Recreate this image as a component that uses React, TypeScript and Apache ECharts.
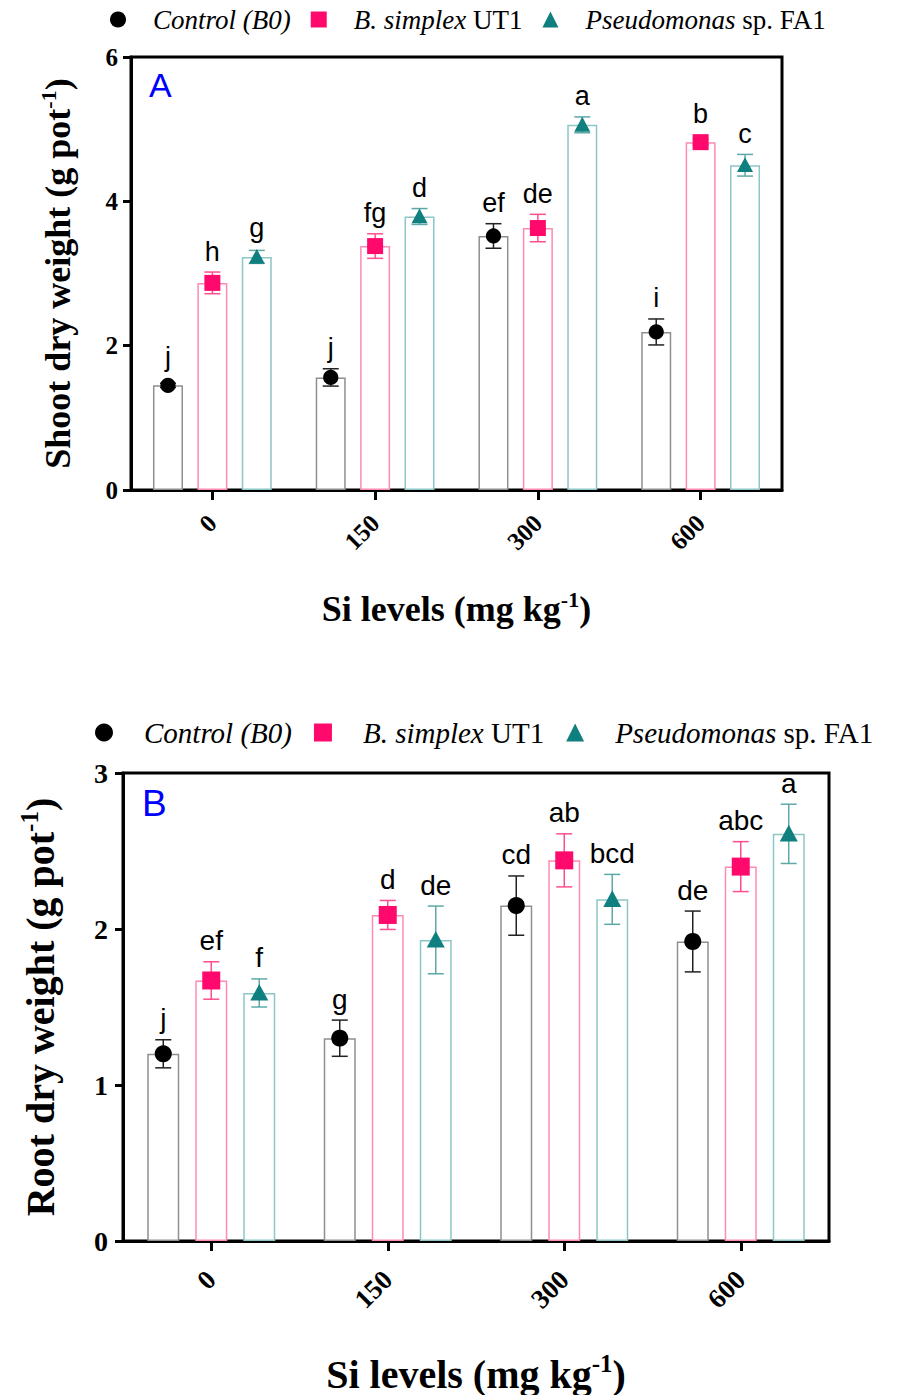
import React, { useEffect, useRef } from 'react';
import * as echarts from 'echarts';

// ---------- data ----------
const categories = ['0', '150', '300', '600'];
const groupNames = ['Control (B0)', 'B. simplex UT1', 'Pseudomonas sp. FA1'];
const groupRich = ['{i|Control (B0)}', '{i|B. simplex}{n| UT1}', '{i|Pseudomonas}{n| sp. FA1}'];

// Panel A: shoot dry weight (g pot-1)
const shootControl = [1.45, 1.56, 3.52, 2.19];
const shootControlErr = [0.03, 0.12, 0.17, 0.18];
const shootSimplex = [2.87, 3.38, 3.63, 4.82];
const shootSimplexErr = [0.15, 0.17, 0.19, 0.04];
const shootPseudo = [3.23, 3.79, 5.06, 4.5];
const shootPseudoErr = [0.09, 0.11, 0.11, 0.15];
const shootControlLetters = ['j', 'j', 'ef', 'i'];
const shootSimplexLetters = ['h', 'fg', 'de', 'b'];
const shootPseudoLetters = ['g', 'd', 'a', 'c'];

// Panel B: root dry weight (g pot-1)
const rootControl = [1.2, 1.3, 2.15, 1.92];
const rootControlErr = [0.09, 0.116, 0.19, 0.195];
const rootSimplex = [1.67, 2.09, 2.44, 2.4];
const rootSimplexErr = [0.12, 0.093, 0.17, 0.16];
const rootPseudo = [1.59, 1.93, 2.19, 2.61];
const rootPseudoErr = [0.09, 0.217, 0.16, 0.19];
const rootControlLetters = ['j', 'g', 'cd', 'de'];
const rootSimplexLetters = ['ef', 'd', 'ab', 'abc'];
const rootPseudoLetters = ['f', 'de', 'bcd', 'a'];

const shootTicks = { min: 0, max: 6, interval: 2 };
const rootTicks = { min: 0, max: 3, interval: 1 };

// ---------- styles ----------
const SERIF = '"Liberation Serif", "Times New Roman", serif';
const SANS = '"Liberation Sans", Arial, sans-serif';
const markerColors = ['#000000', '#ff0a6c', '#0f7f7f'];
const barBorderColors = ['#8f8f8f', '#ff8ab4', '#8cc6c6'];
const errColors = ['#222222', '#ff4d8f', '#5fa8a8'];
const legendIcons = ['circle', 'rect', 'triangle'];

type Panel = {
  grid: number;
  means: number[][];
  errs: number[][];
  letters: string[][];
  barWidth: number;
  gapRatio: number;
  marker: number;
  letterSize: number;
};

const panels: Panel[] = [
  {
    grid: 0,
    means: [shootControl, shootSimplex, shootPseudo],
    errs: [shootControlErr, shootSimplexErr, shootPseudoErr],
    letters: [shootControlLetters, shootSimplexLetters, shootPseudoLetters],
    barWidth: 30,
    gapRatio: 0.48,
    marker: 16,
    letterSize: 27,
  },
  {
    grid: 1,
    means: [rootControl, rootSimplex, rootPseudo],
    errs: [rootControlErr, rootSimplexErr, rootPseudoErr],
    letters: [rootControlLetters, rootSimplexLetters, rootPseudoLetters],
    barWidth: 32,
    gapRatio: 0.5,
    marker: 18,
    letterSize: 28,
  },
];

function buildSeries(): any[] {
  const out: any[] = [];
  panels.forEach((p) => {
    const spacing = p.barWidth * (1 + p.gapRatio);
    p.means.forEach((vals, g) => {
      out.push({
        type: 'bar',
        name: groupNames[g] + ' bar ' + p.grid,
        xAxisIndex: p.grid,
        yAxisIndex: p.grid,
        data: vals,
        barWidth: p.barWidth,
        barGap: p.gapRatio * 100 + '%',
        itemStyle: { color: '#ffffff', borderColor: barBorderColors[g], borderWidth: 1.5 },
        silent: true,
        z: 2,
      });
    });
    p.means.forEach((vals, g) => {
      const errs = p.errs[g];
      const letters = p.letters[g];
      out.push({
        type: 'custom',
        name: groupNames[g],
        xAxisIndex: p.grid,
        yAxisIndex: p.grid,
        itemStyle: { color: markerColors[g] },
        data: vals.map((v, j) => [j, v, errs[j]]),
        encode: { x: 0, y: 1 },
        z: 5,
        clip: false,
        silent: true,
        renderItem: (params: any, api: any) => {
          const xi = api.value(0);
          const v = api.value(1);
          const e = api.value(2);
          const c = api.coord([xi, v]);
          const top = api.coord([xi, v + e]);
          const bot = api.coord([xi, v - e]);
          const cx = c[0] + (g - 1) * spacing;
          const cy = c[1];
          const half = p.marker / 2;
          const capHalf = 8;
          const errStyle = { stroke: errColors[g], lineWidth: 1.5 };
          const children: any[] = [];
          children.push({ type: 'line', shape: { x1: cx, y1: top[1], x2: cx, y2: bot[1] }, style: errStyle });
          children.push({ type: 'line', shape: { x1: cx - capHalf, y1: top[1], x2: cx + capHalf, y2: top[1] }, style: errStyle });
          children.push({ type: 'line', shape: { x1: cx - capHalf, y1: bot[1], x2: cx + capHalf, y2: bot[1] }, style: errStyle });
          if (g === 0) {
            children.push({ type: 'circle', shape: { cx, cy, r: half * 0.95 }, style: { fill: markerColors[g] } });
          } else if (g === 1) {
            children.push({ type: 'rect', shape: { x: cx - half, y: cy - half, width: 2 * half, height: 2 * half }, style: { fill: markerColors[g] } });
          } else {
            children.push({
              type: 'polygon',
              shape: { points: [[cx, cy - half], [cx + half, cy + half * 0.85], [cx - half, cy + half * 0.85]] },
              style: { fill: markerColors[g] },
            });
          }
          const ly = Math.min(top[1], cy - half) - 7;
          children.push({
            type: 'text',
            style: {
              text: letters[params.dataIndex],
              x: cx,
              y: ly,
              align: 'center',
              verticalAlign: 'bottom',
              textAlign: 'center',
              textVerticalAlign: 'bottom',
              font: `${p.letterSize}px ${SANS}`,
              fill: '#000000',
            },
          });
          return { type: 'group', children };
        },
      });
    });
  });
  return out;
}

function legendCfg(left: number, top: number, size: number, fontSize: number, pad: number, gap: number) {
  return {
    left,
    top,
    padding: 0,
    orient: 'horizontal',
    selectedMode: false,
    itemWidth: size,
    itemHeight: size,
    itemGap: gap,
    data: groupNames.map((n, i) => ({ name: n, icon: legendIcons[i] })),
    formatter: (name: string) => groupRich[groupNames.indexOf(name)],
    textStyle: {
      fontFamily: SERIF,
      fontSize,
      color: '#000',
      padding: [0, 0, 0, pad],
      rich: {
        i: { fontFamily: SERIF, fontSize, fontStyle: 'italic', color: '#000' },
        n: { fontFamily: SERIF, fontSize, color: '#000' },
      },
    },
  };
}

function axisName(text: string, size: number) {
  return {
    name: `{b|${text}}{s|-1}{b|)}`,
    nameTextStyle: {
      rich: {
        b: { fontFamily: SERIF, fontWeight: 'bold', fontSize: size, color: '#000', lineHeight: size * 1.15 },
        s: { fontFamily: SERIF, fontWeight: 'bold', fontSize: Math.round(size * 0.62), color: '#000', verticalAlign: 'top', lineHeight: size * 0.7 },
      },
    },
  };
}

function xAxisCfg(grid: number, fontSize: number, margin: number, nameSize: number, nameGap: number) {
  return {
    gridIndex: grid,
    type: 'category',
    data: categories,
    axisLine: { show: true, lineStyle: { color: '#000', width: 3 } },
    axisTick: { show: true, alignWithLabel: true, length: 10, lineStyle: { color: '#000', width: 3 } },
    axisLabel: { rotate: 45, margin, fontFamily: SERIF, fontWeight: 'bold', fontSize, color: '#000' },
    splitLine: { show: false },
    nameLocation: 'middle',
    nameGap,
    ...axisName('Si levels (mg kg', nameSize),
  };
}

function yAxisCfg(grid: number, ticks: { min: number; max: number; interval: number }, label: string, fontSize: number, margin: number, nameSize: number, nameGap: number) {
  return {
    gridIndex: grid,
    type: 'value',
    min: ticks.min,
    max: ticks.max,
    interval: ticks.interval,
    axisLine: { show: true, lineStyle: { color: '#000', width: 3 } },
    axisTick: { show: true, length: 8, lineStyle: { color: '#000', width: 3 } },
    axisLabel: { margin, fontFamily: SERIF, fontWeight: 'bold', fontSize, color: '#000' },
    splitLine: { show: false },
    nameLocation: 'middle',
    nameRotate: 90,
    nameGap,
    ...axisName(label, nameSize),
  };
}

export default function App() {
  const ref = useRef<HTMLDivElement>(null);
  useEffect(() => {
    if (!ref.current) return;
    const chart = echarts.init(ref.current, undefined, { renderer: 'svg' });
    chart.setOption({
      animation: false,
      backgroundColor: '#ffffff',
      grid: [
        { left: 131, top: 57, width: 651, height: 433, show: true, borderColor: '#000', borderWidth: 3, backgroundColor: 'transparent' },
        { left: 123, top: 773, width: 706, height: 470, show: true, borderColor: '#000', borderWidth: 3, backgroundColor: 'transparent' },
      ],
      legend: [legendCfg(110, 6, 16, 27, 22, 20), legendCfg(95, 718, 18, 29, 26, 22)],
      xAxis: [xAxisCfg(0, 25, 29, 36, 98), xAxisCfg(1, 27, 34, 40, 110)],
      yAxis: [
        yAxisCfg(0, shootTicks, 'Shoot dry weight (g pot', 25, 13, 36, 52),
        yAxisCfg(1, rootTicks, 'Root dry weight (g pot', 28, 15, 40, 60),
      ],
      graphic: [
        { type: 'text', left: 149, top: 68, style: { text: 'A', fill: '#0000ff', font: `34px ${SANS}` } },
        { type: 'text', left: 142, top: 785, style: { text: 'B', fill: '#0000ff', font: `37px ${SANS}` } },
      ],
      series: buildSeries(),
    });
    return () => chart.dispose();
  }, []);
  return (
    <div
      ref={ref}
      style={{ position: 'absolute', left: 0, top: 0, width: 900, height: 1395, background: '#fff' }}
    />
  );
}
